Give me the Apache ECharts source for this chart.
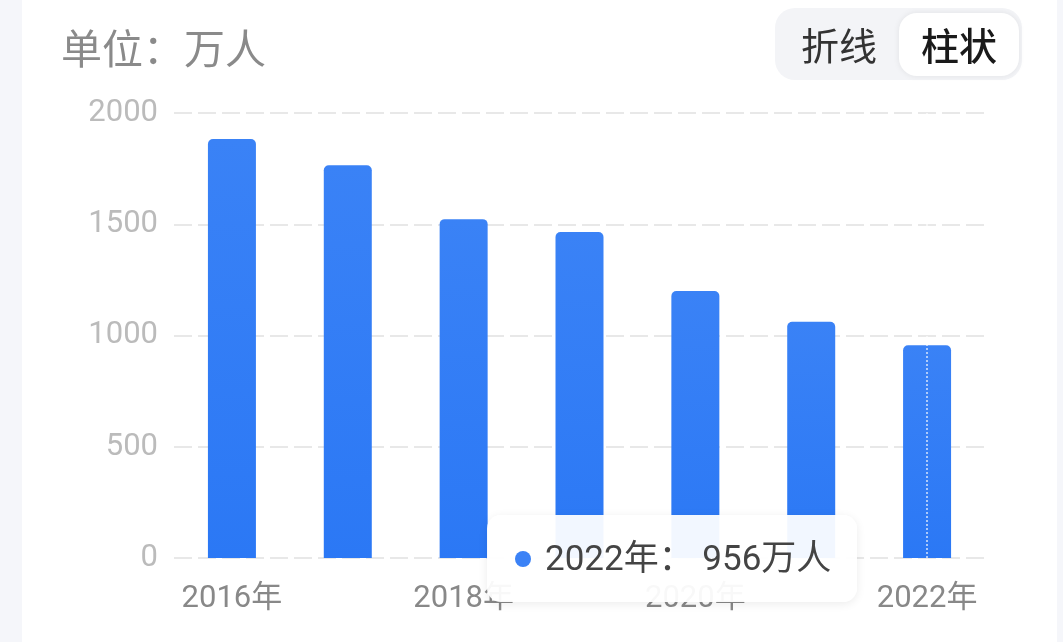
<!DOCTYPE html>
<html>
<head>
<meta charset="utf-8">
<script src="https://cdn.jsdelivr.net/npm/echarts@6/dist/echarts.min.js"></script>
<style>
  html,body{margin:0;padding:0;width:1063px;height:642px;background:#f5f6fa;overflow:hidden;}
  #card{position:absolute;left:22px;top:0;width:1035px;height:642px;background:#ffffff;}
  #chart{position:absolute;left:0;top:0;width:1063px;height:642px;}
</style>
</head>
<body>
<div id="card"></div>
<div id="chart"></div>
<script>
const categories = ['2016年','2017年','2018年','2019年','2020年','2021年','2022年'];
const births = [1883, 1765, 1523, 1465, 1200, 1062, 956];
const unitLabel = '单位：万人';
const toggleLabels = ['折线', '柱状'];
const yTicks = [0, 500, 1000, 1500, 2000];

const FONT = "Roboto, 'Noto Sans CJK SC', sans-serif";
const chart = echarts.init(document.getElementById('chart'), null, {renderer:'canvas'});

const option = {
  animation: false,
  backgroundColor: 'transparent',
  textStyle: {fontFamily: FONT},
  title: {
    text: unitLabel,
    left: 56, top: 23,
    textStyle: {color: '#8a8a8a', fontSize: 41, fontWeight: 'normal', fontFamily: "'Noto Sans CJK SC', sans-serif"}
  },
  graphic: [
    {type:'rect', shape:{x:775, y:8, width:247, height:72, r:20}, style:{fill:'#f3f4f7'}},
    {type:'rect', shape:{x:899, y:13, width:120, height:63, r:18}, style:{fill:'#ffffff', shadowBlur:6, shadowColor:'rgba(0,0,0,0.08)'}},
    {type:'text', x:839, y:46, style:{text:toggleLabels[0], fill:'#333333', font:"38px 'Noto Sans CJK SC'", textAlign:'center', textVerticalAlign:'middle'}},
    {type:'text', x:959, y:46, style:{text:toggleLabels[1], fill:'#1a1a1a', font:"500 38px 'Noto Sans CJK SC'", textAlign:'center', textVerticalAlign:'middle'}}
  ],
  grid: {left:174, right:78, top:113, bottom:84, containLabel:false},
  tooltip: {
    trigger: 'axis',
    triggerOn: 'none',
    alwaysShowContent: true,
    transitionDuration: 0,
    position: [487, 515],
    backgroundColor: 'rgba(255,255,255,0.94)',
    borderWidth: 0,
    padding: 0,
    extraCssText: 'width:370px;height:87px;box-sizing:border-box;border-radius:14px;box-shadow:0 2px 10px rgba(0,0,0,0.08);',
    axisPointer: {
      type: 'line',
      lineStyle: {color:'rgba(255,255,255,0.6)', type:'dotted', width:2}
    },
    formatter: function(params){
      const p = params[0];
      return '<div style="display:flex;align-items:center;height:87px;padding-left:28px;font-family:Roboto,\'Noto Sans CJK SC\',sans-serif;font-size:35px;color:#444;white-space:pre;">'
        + '<span style="display:inline-block;width:16px;height:16px;border-radius:8px;background:#3b82f6;margin-right:14px;"></span>'
        + p.name + '： ' + p.value + '万人</div>';
    }
  },
  xAxis: {
    type: 'category',
    data: categories,
    boundaryGap: true,
    axisLine: {show:false},
    axisTick: {show:false},
    axisLabel: {interval:1, color:'#888888', fontSize:31, margin:26, fontFamily: FONT}
  },
  yAxis: {
    type: 'value',
    min: yTicks[0], max: yTicks[yTicks.length-1], interval: 500,
    axisLine: {show:false},
    axisTick: {show:false},
    axisLabel: {color:'#bbbbbb', fontSize:31, margin:16, fontFamily: FONT, formatter: function(v){ return String(v); }},
    splitLine: {lineStyle: {color:'#e8e8e8', width:2, type:[18,6]}}
  },
  series: [{
    type: 'bar',
    data: births,
    barWidth: 48,
    emphasis: {disabled: true},
    itemStyle: {
      borderRadius: [5,5,0,0],
      color: new echarts.graphic.LinearGradient(0,0,0,1,[
        {offset:0, color:'#3a82f6'},
        {offset:1, color:'#2b78f5'}
      ])
    }
  }]
};
chart.setOption(option);
chart.dispatchAction({type:'showTip', seriesIndex:0, dataIndex:6});
</script>
</body>
</html>
